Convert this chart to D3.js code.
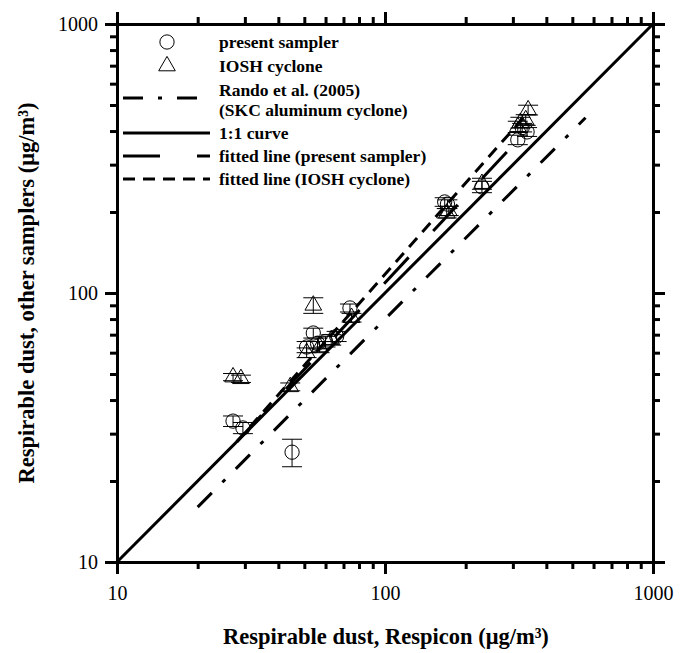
<!DOCTYPE html>
<html><head><meta charset="utf-8">
<script src="https://cdn.jsdelivr.net/npm/d3@7"></script>
<style>body{margin:0;background:#fff}svg{display:block}</style>
</head><body>
<svg id="c" width="689" height="653"></svg>
<script>
// ---- data ----
const majorTicks = [10, 100, 1000];
const minorTicks = [20,30,40,50,60,70,80,90,200,300,400,500,600,700,800,900];
const presentX   = [27.1, 29.5, 45, 51, 54, 56, 60, 66, 74, 167, 171, 230, 313, 339, 325];
const presentY   = [33.4, 31.5, 25.6, 63, 71, 65, 66, 69, 88, 218, 214, 248, 371, 397, 412];
const presentErr = [1.5, 1.5, 3, 3, 3, 3, 3, 3, 3, 8, 8, 12, 15, 15, 15];
const ioshX      = [27.1, 29, 44.3, 51, 54, 57, 63, 75, 170, 173, 230, 320, 313, 342, 335];
const ioshY      = [48.7, 48, 44.8, 60, 90, 63, 67, 81, 198, 202, 255, 430, 415, 479, 440];
const ioshErr    = [1.5, 1.5, 1.5, 2.5, 6, 3, 3, 3, 8, 8, 12, 20, 20, 20, 20];
const randoX = [20, 560], randoY = [16, 448];
const oneX = [10, 1000], oneY = [10, 1000];
const fitPresentX = [28, 340], fitPresentY = [28, 404];
const fitIoshX = [28, 340], fitIoshY = [28, 466];

const svg = d3.select("#c");
const x = d3.scaleLog().domain([10,1000]).range([117,653]);
const y = d3.scaleLog().domain([10,1000]).range([562,24]);
const serif = "'Liberation Serif','Times New Roman',serif";

// ---- axes ----
function axis(gen, tr, vals, size, labels){
  const g = svg.append("g").attr("transform", tr)
    .call(gen.tickValues(vals).tickSize(size).tickSizeOuter(0).tickFormat(labels ? d3.format("d") : ""));
  g.select(".domain").attr("stroke-width", 3);
  g.selectAll(".tick line").attr("stroke-width", 3);
  g.selectAll("text").attr("font-family", serif).attr("font-size", 20).attr("fill","#000");
  return g;
}
axis(d3.axisBottom(x), "translate(0,562)", majorTicks, 12, true).selectAll("text").attr("dy", "1.15em");
axis(d3.axisBottom(x), "translate(0,562)", minorTicks, 7, false);
axis(d3.axisTop(x), "translate(0,24)", majorTicks, 12, false);
axis(d3.axisTop(x), "translate(0,24)", minorTicks, 7, false);
axis(d3.axisLeft(y), "translate(117,0)", majorTicks, 12, true).selectAll("text").attr("dx", "-0.2em");
axis(d3.axisLeft(y), "translate(117,0)", minorTicks, 7, false);
axis(d3.axisRight(y), "translate(653,0)", majorTicks, 12, false);
axis(d3.axisRight(y), "translate(653,0)", minorTicks, 7, false);

// ---- lines ----
const line = d3.line().x(d => x(d[0])).y(d => y(d[1]));
function drawLine(xs, ys, dash){
  svg.append("path").datum(xs.map((v,i)=>[v, ys[i]])).attr("d", line)
    .attr("fill","none").attr("stroke","#000").attr("stroke-width",3)
    .attr("stroke-dasharray", dash);
}
drawLine(oneX, oneY, null);
drawLine(randoX, randoY, "20,15,4,15");
drawLine(fitPresentX, fitPresentY, "36,36");
drawLine(fitIoshX, fitIoshY, "12,8");

// ---- points ----
function errBars(xs, ys, es){
  const g = svg.append("g").attr("stroke","#000").attr("stroke-width",1);
  xs.forEach((xv,i)=>{
    const cx = x(xv), t = y(ys[i]+es[i]), b = y(ys[i]-es[i]);
    g.append("line").attr("x1",cx).attr("x2",cx).attr("y1",t).attr("y2",b);
    g.append("line").attr("x1",cx-10).attr("x2",cx+10).attr("y1",t).attr("y2",t);
    g.append("line").attr("x1",cx-10).attr("x2",cx+10).attr("y1",b).attr("y2",b);
  });
}
errBars(presentX, presentY, presentErr);
errBars(ioshX, ioshY, ioshErr);
const circ = d3.symbol().type(d3.symbolCircle).size(160);
const tri = d3.symbol().type(d3.symbolTriangle).size(120);
svg.append("g").selectAll("path").data(presentX).join("path")
  .attr("d", circ).attr("transform",(d,i)=>`translate(${x(d)},${y(presentY[i])})`)
  .attr("fill","none").attr("stroke","#000").attr("stroke-width",1);
svg.append("g").selectAll("path").data(ioshX).join("path")
  .attr("d", tri).attr("transform",(d,i)=>`translate(${x(d)},${y(ioshY[i])})`)
  .attr("fill","none").attr("stroke","#000").attr("stroke-width",1);

// ---- legend ----
const lg = svg.append("g").attr("font-family", serif).attr("font-weight","bold").attr("font-size",17.5);
const lx0 = 123, lx1 = 210, tx = 219;
lg.append("path").attr("d", circ).attr("transform","translate(167,42)").attr("fill","none").attr("stroke","#000");
lg.append("text").attr("x",tx).attr("y",48).text("present sampler");
lg.append("path").attr("d", tri).attr("transform","translate(167,66)").attr("fill","none").attr("stroke","#000");
lg.append("text").attr("x",tx).attr("y",72).text("IOSH cyclone");
const legLines = [[98,"20,15,4,15"],[133,null],[156,"37,37"],[179,"12,8"]];
legLines.forEach(([yy,da])=>{
  lg.append("line").attr("x1",lx0).attr("x2",lx1).attr("y1",yy).attr("y2",yy)
    .attr("stroke","#000").attr("stroke-width",3).attr("stroke-dasharray",da);
});
lg.append("text").attr("x",tx).attr("y",96).text("Rando et al. (2005)");
lg.append("text").attr("x",tx).attr("y",116).text("(SKC aluminum cyclone)");
lg.append("text").attr("x",tx).attr("y",139).text("1:1 curve");
lg.append("text").attr("x",tx).attr("y",162).text("fitted line (present sampler)");
lg.append("text").attr("x",tx).attr("y",185).text("fitted line (IOSH cyclone)");

// ---- titles ----
svg.append("text").attr("x",386).attr("y",644).attr("text-anchor","middle")
  .attr("font-family",serif).attr("font-weight","bold").attr("font-size",22.5)
  .text("Respirable dust, Respicon (μg/m³)");
svg.append("text").attr("transform","translate(34,293) rotate(-90)").attr("text-anchor","middle")
  .attr("font-family",serif).attr("font-weight","bold").attr("font-size",22.5)
  .text("Respirable dust, other samplers (μg/m³)");
</script>
</body></html>
